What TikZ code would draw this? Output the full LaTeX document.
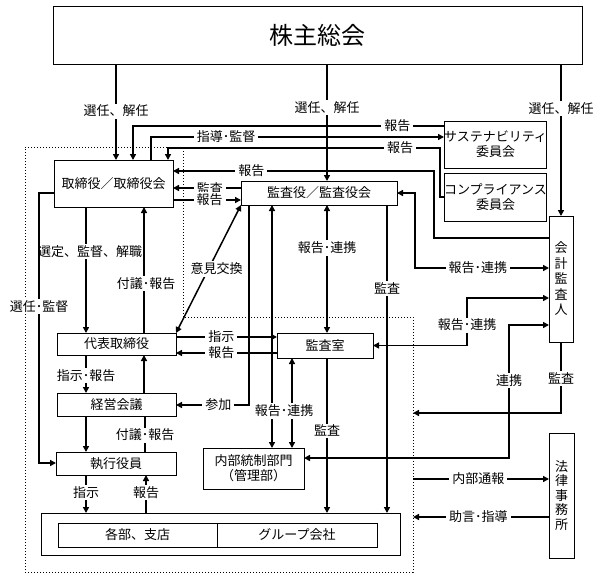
\documentclass[tikz,border=0pt]{standalone}
\usepackage{fontspec}
\setmainfont{Noto Sans CJK JP}
\usetikzlibrary{arrows.meta}
\begin{document}
\begin{tikzpicture}[x=1pt,y=-1pt,
  box/.style={draw, line width=1pt, inner sep=0pt, outer sep=0pt, font=\fontsize{13}{15}\selectfont, align=center},
  con/.style={line width=1.5pt},
  arr/.style={con, -{Triangle[length=6pt,width=6pt]}},
  arrb/.style={con, {Triangle[length=6pt,width=6pt]}-{Triangle[length=6pt,width=6pt]}},
  lbl/.style={fill=white, inner xsep=3pt, inner ysep=1.5pt, font=\fontsize{13}{15}\selectfont},
]
\useasboundingbox (0,0) rectangle (600,579);

% dotted outline
\draw[dotted, line width=1pt] (25,147) -- (183,147) -- (183,317) -- (413,317) -- (413,572) -- (25,572) -- cycle;
\coordinate (dotR) at (413,317);

% boxes
\node[box, minimum width=529, minimum height=58, font=\fontsize{24}{28}\selectfont] (sh) at (317.5,35) {株主総会};
\node[box, minimum width=119, minimum height=47] (tori) at (113.5,183.5) {取締役／取締役会};
\node[box, minimum width=156, minimum height=24] (kansa) at (319,193) {監査役／監査役会};
\node[box, minimum width=95, minimum height=47] (sus) at (495.5,144.5) {サステナビリティ\\委員会};
\node[box, minimum width=95, minimum height=48] (comp) at (495.5,197) {コンプライアンス\\委員会};
\node[box, minimum width=24, minimum height=126, font=\fontsize{13}{15.5}\selectfont] (kaikei) at (561,279) {会\\計\\監\\査\\人};
\node[box, minimum width=119, minimum height=22] (daihyo) at (116.5,344) {代表取締役};
\node[box, minimum width=119, minimum height=23] (keiei) at (116.5,404.5) {経営会議};
\node[box, minimum width=120, minimum height=23] (shikko) at (116,463.5) {執行役員};
\node[box, minimum width=96, minimum height=25] (shitsu) at (325,345.5) {監査室};
\node[box, minimum width=101, minimum height=41] (naibu) at (253.5,468.5) {内部統制部門\\（管理部）};
\node[box, minimum width=25, minimum height=125, font=\fontsize{13}{14.5}\selectfont] (houritsu) at (561.5,495.5) {法\\律\\事\\務\\所};
\node[box, minimum width=359, minimum height=42] (cont) at (220.5,534) {};
\node[box, minimum width=159, minimum height=24] (bu) at (137.5,535) {各部、支店};
\node[box, minimum width=160, minimum height=24] (grp) at (297,535) {グループ会社};

% shareholders
\draw[arr] (116,0 |- sh.south) -- node[lbl, pos=0.49] {選任、解任} (116,0 |- tori.north);
\draw[arr] (327,0 |- sh.south) -- node[lbl, pos=0.376] {選任、解任} (327,0 |- kansa.north);
\draw[arr] (561,0 |- sh.south) -- node[lbl, pos=0.29] {選任、解任} (561,0 |- kaikei.north);

% committees
\draw[arr] (sus.west |- 0,126) -- node[lbl, pos=0.15] {報告} (133,126) -- (133,0 |- tori.north);
\draw[arr] (151,0 |- tori.north) -- (151,137) -- node[lbl, pos=0.256] {指導･監督} (sus.west |- 0,137);
\draw[arr] (comp.west |- 0,197) -- (440,197) -- (440,148) -- node[lbl, pos=0.147] {報告} (168,148) -- (168,0 |- tori.north);
\draw[arr] (kaikei.west |- 0,238) -- (434,238) -- (434,171) -- node[lbl, pos=0.70] {報告} (tori.east |- 0,171);

% board <-> auditors
\draw[arr] (kansa.west |- 0,188) -- node[lbl, pos=0.456] {監査} (tori.east |- 0,188);
\draw[arr] (tori.east |- 0,200) -- node[lbl, pos=0.54] {報告} (kansa.west |- 0,200);
\draw[arrb] (kansa.east) -- (415,0 |- kansa.east) -- (415,268) -- node[lbl, pos=0.47] {報告･連携} (kaikei.west |- 0,268);

% auditors downward
\draw[arr] (387,0 |- kansa.south) -- node[lbl, pos=0.27] {監査} (387,0 |- cont.north);
\draw[arrb] (327,0 |- kansa.south) -- node[lbl, pos=0.336] {報告･連携} (327,0 |- shitsu.north);
\draw[arr] (327,0 |- shitsu.south) -- node[lbl, pos=0.47] {監査} (327,0 |- cont.north);
\draw[arr] (249,0 |- kansa.south) -- (249,405) -- node[lbl, pos=0.42] {参加} (keiei.east |- 0,405);
\draw[arrb] (272,0 |- kansa.south) -- (272,0 |- naibu.north);
\draw[arrb] (292,0 |- shitsu.south) -- (292,0 |- naibu.north);
\node[lbl] (lblrr) at (284,411) {報告･連携};

% accounting auditor links
\draw[arrb] (shitsu.east) -- (467,0 |- shitsu.east) -- node[lbl, pos=0.43] {報告･連携} (467,298) -- (kaikei.west |- 0,298);
\draw[arrb] (naibu.east |- 0,458) -- (509,458) -- node[lbl, pos=0.58] {連携} (509,325) -- (kaikei.west |- 0,325);
\draw[arr] (kaikei.south) -- node[lbl, pos=0.51] {監査} (561,413) -- (dotR |- 0,413);

% law firm
\draw[arr] (dotR |- 0,479) -- node[lbl, pos=0.48] {内部通報} (houritsu.west |- 0,479);
\draw[arr] (houritsu.west |- 0,517) -- node[lbl, pos=0.52] {助言･指導} (dotR |- 0,517);

% left column
\draw[arr] (86,0 |- tori.south) -- node[lbl, pos=0.35, xshift=4pt] {選定、監督、解職} (86,0 |- daihyo.north);
\draw[arr] (144,0 |- daihyo.north) -- node[lbl, pos=0.39, xshift=2pt] {付議･報告} (144,0 |- tori.south);
\draw[arr] (tori.west |- 0,193) -- (39,193) -- node[lbl, pos=0.42] {選任･監督} (39,463) -- (shikko.west |- 0,463);
\draw[arr] (86,0 |- daihyo.south) -- node[lbl, pos=0.53] {指示･報告} (86,0 |- keiei.north);
\draw[arr] (144,0 |- keiei.north) -- (144,0 |- daihyo.south);
\draw[arr] (86,0 |- keiei.south) -- (86,0 |- shikko.north);
\draw[con] (145,0 |- shikko.north) -- node[lbl, pos=0.47] {付議･報告} (145,0 |- keiei.south);
\draw[arr] (86,0 |- shikko.south) -- node[lbl, pos=0.47] {指示} (86,0 |- cont.north);
\draw[arr] (146,0 |- cont.north) -- node[lbl, pos=0.53] {報告} (146,0 |- shikko.south);

% representative director <-> audit office
\draw[arr] (daihyo.east |- 0,337) -- node[lbl, pos=0.45] {指示} (shitsu.west |- 0,337);
\draw[arr] (shitsu.west |- 0,353) -- node[lbl, pos=0.55] {報告} (daihyo.east |- 0,353);
\draw[arrb] (daihyo.north east) -- node[lbl, xshift=8pt] {意見交換} (kansa.south west);
\end{tikzpicture}
\end{document}
